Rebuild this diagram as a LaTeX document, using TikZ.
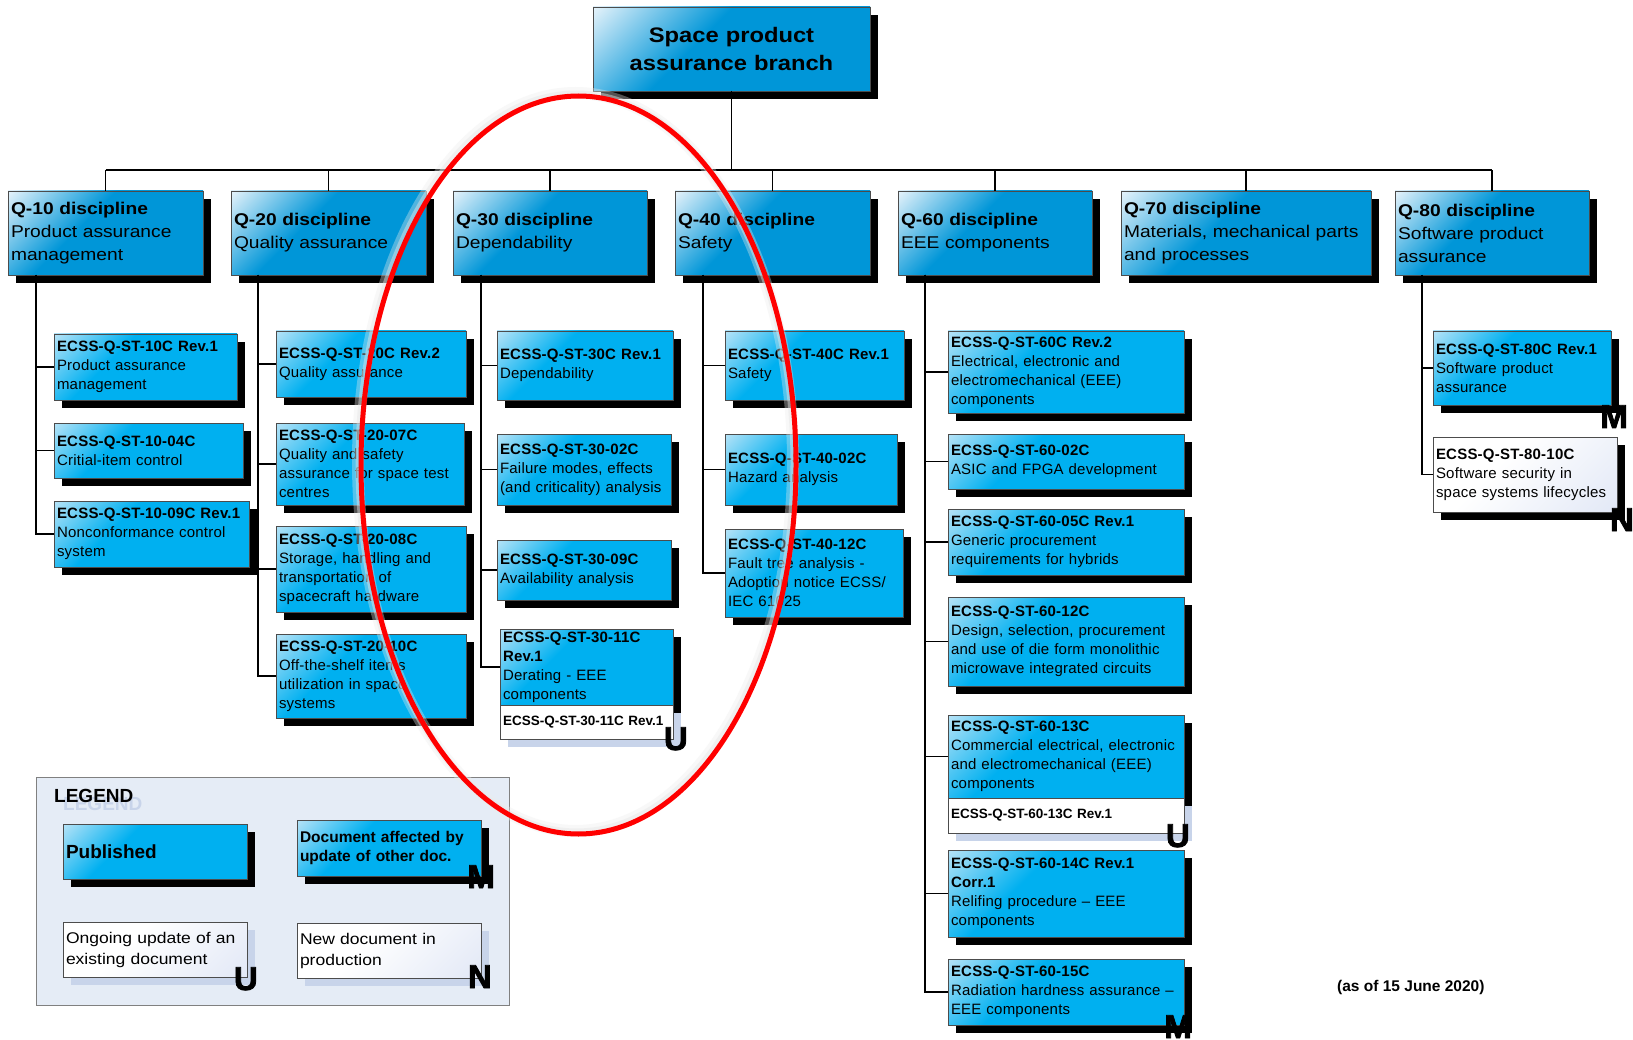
\documentclass[tikz,border=0pt]{standalone}
\usepackage{fontspec}
\setmainfont{Liberation Sans}
\newfontfamily\discfamily{Liberation Sans}[FakeStretch=1.13]
\newfontfamily\childfamily{Liberation Sans}[LetterSpace=1.5]
\newfontfamily\heavyfamily{Liberation Sans}[FakeBold=2.5]
\usetikzlibrary{shadows}
\definecolor{blueC}{RGB}{0,176,240}
\definecolor{lightc}{RGB}{178,226,247}
\definecolor{blueD}{RGB}{0,150,216}
\definecolor{lightd}{RGB}{226,241,250}
\definecolor{paleblue}{RGB}{226,232,246}
\definecolor{shadowlb}{RGB}{200,212,234}
\definecolor{legfill}{RGB}{229,236,246}
\pgfdeclarehorizontalshading{childsh}{100bp}{color(0bp)=(lightc); color(15bp)=(lightc); color(38bp)=(blueC); color(100bp)=(blueC)}
\pgfdeclarehorizontalshading{discsh}{100bp}{color(0bp)=(lightd); color(15bp)=(lightd); color(42bp)=(blueD); color(100bp)=(blueD)}
\pgfdeclarehorizontalshading{whitesh}{100bp}{color(0bp)=(white); color(40bp)=(white); color(85bp)=(paleblue); color(100bp)=(paleblue)}
\newcommand\childfont{\childfamily\fontsize{15}{19}\selectfont}
\newcommand\discfont{\discfamily\fontsize{17}{23}\selectfont}
\newcommand\topfont{\discfamily\bfseries\fontsize{21}{28}\selectfont}
\newcommand\revfont{\bfseries\fontsize{13.5}{16}\selectfont}
\newcommand\legfont{\discfamily\fontsize{15.5}{21}\selectfont}
\newcommand\letterfont{\heavyfamily\bfseries\fontsize{33}{33}\selectfont}
\tikzset{
  conn/.style={line width=1.8pt, draw=black},
  sz/.code 2 args={\pgfmathsetlengthmacro\bxtw{#1-6}\edef\bxtmp{\noexpand\pgfkeysalso{text width=\bxtw, minimum width=#1pt, minimum height=#2pt}}\bxtmp},
  boxbase/.style={draw=black!70, line width=0.6pt, inner xsep=3pt, inner ysep=0pt, outer sep=0pt, anchor=north west, align=left},
  blackshadow/.style={drop shadow={shadow xshift=8pt, shadow yshift=-8pt, fill=black, opacity=1}},
  lightshadow/.style={drop shadow={shadow xshift=8pt, shadow yshift=-8pt, fill=shadowlb, opacity=1}},
  childbox/.style={boxbase, blackshadow, shade, shading=childsh, shading angle=-45, font=\childfont},
  discbox/.style={boxbase, blackshadow, shade, shading=discsh, shading angle=-45, font=\discfont},
  topbox/.style={discbox, align=center, font=\topfont},
  newbox/.style={boxbase, blackshadow, shade, shading=whitesh, shading angle=-45, font=\childfont},
  revbox/.style={boxbase, lightshadow, fill=white, font=\revfont},
  legwhite/.style={boxbase, lightshadow, shade, shading=whitesh, shading angle=-45, font=\legfont},
  flag/.style={font=\letterfont, inner sep=0pt, anchor=base east},
}
\begin{document}
\begin{tikzpicture}[x=1pt,y=-1pt]
\fill[white] (0,0) rectangle (1633,1040);
\useasboundingbox (0,0) rectangle (1633,1040);

% top
\node[topbox, sz={277}{84}] (top) at (593,7) {Space product\\assurance branch};

% disciplines
\node[discbox, sz={195}{84}] (d10) at (8,191) {\textbf{Q-10 discipline}\\Product assurance\\management};
\node[discbox, sz={195}{84}] (d20) at (231,191) {\textbf{Q-20 discipline}\\Quality assurance};
\node[discbox, sz={194}{84}] (d30) at (453,191) {\textbf{Q-30 discipline}\\Dependability};
\node[discbox, sz={195}{84}] (d40) at (675,191) {\textbf{Q-40 discipline}\\Safety};
\node[discbox, sz={194}{84}] (d60) at (898,191) {\textbf{Q-60 discipline}\\EEE components};
\node[discbox, sz={250}{84}] (d70) at (1121,191) {\textbf{Q-70 discipline}\\Materials, mechanical parts\\and processes};
\node[discbox, sz={194}{84}] (d80) at (1395,191) {\textbf{Q-80 discipline}\\Software product\\assurance};

% bus
\coordinate (bus) at (0,170);
\draw[conn] (top.south) -- (top.south |- bus);
\draw[conn] (d10.north |- bus) -- (d80.north |- bus);
\foreach \d in {d10,d20,d30,d40,d60,d70,d80}{
  \draw[conn] (\d.north) -- (\d.north |- bus);
}

% vertical stems
\coordinate (v10) at ([xshift=28pt]d10.south west);
\coordinate (v20) at ([xshift=27pt]d20.south west);
\coordinate (v30) at ([xshift=28pt]d30.south west);
\coordinate (v40) at ([xshift=28pt]d40.south west);
\coordinate (v60) at ([xshift=27pt]d60.south west);
\coordinate (v80) at ([xshift=27pt]d80.south west);

% Q-10 children
\node[childbox, sz={183}{66}] (c10a) at (54,334) {\textbf{ECSS-Q-ST-10C Rev.1}\\Product assurance\\management};
\node[childbox, sz={189}{55}] (c10b) at (54,423) {\textbf{ECSS-Q-ST-10-04C}\\Critial-item control};
\node[childbox, sz={195}{66}] (c10c) at (54,501) {\textbf{ECSS-Q-ST-10-09C Rev.1}\\Nonconformance control\\system};

% Q-20 children
\node[childbox, sz={190}{66}] (c20a) at (276,331) {\textbf{ECSS-Q-ST-20C Rev.2}\\Quality assurance};
\node[childbox, sz={188}{82}] (c20b) at (276,423) {\textbf{ECSS-Q-ST-20-07C}\\Quality and safety\\assurance for space test\\centres};
\node[childbox, sz={190}{86}] (c20c) at (276,526) {\textbf{ECSS-Q-ST-20-08C}\\Storage, handling and\\transportation of\\spacecraft hardware};
\node[childbox, sz={190}{84}] (c20d) at (276,634) {\textbf{ECSS-Q-ST-20-10C}\\Off-the-shelf items\\utilization in space\\systems};

% Q-30 children
\node[childbox, sz={176}{69}] (c30a) at (497,331) {\textbf{ECSS-Q-ST-30C Rev.1}\\Dependability};
\node[childbox, sz={174}{71}] (c30b) at (497,434) {\textbf{ECSS-Q-ST-30-02C}\\Failure modes, effects\\(and criticality) analysis};
\node[childbox, sz={174}{60}] (c30c) at (497,540) {\textbf{ECSS-Q-ST-30-09C}\\Availability analysis};
\node[childbox, sz={173}{76}] (c30d) at (500,629) {\textbf{ECSS-Q-ST-30-11C}\\\textbf{Rev.1}\\Derating - EEE\\components};
\node[revbox, sz={173}{34}] (c30w) at (500,705) {ECSS-Q-ST-30-11C Rev.1};

% Q-40 children
\node[childbox, sz={179}{69}] (c40a) at (725,331) {\textbf{ECSS-Q-ST-40C Rev.1}\\Safety};
\node[childbox, sz={172}{71}] (c40b) at (725,434) {\textbf{ECSS-Q-ST-40-02C}\\Hazard analysis};
\node[childbox, sz={178}{88}] (c40c) at (725,529) {\textbf{ECSS-Q-ST-40-12C}\\Fault tree analysis -\\Adoption notice ECSS/\\IEC 61025};

% Q-60 children
\node[childbox, sz={236}{82}] (c60a) at (948,331) {\textbf{ECSS-Q-ST-60C Rev.2}\\Electrical, electronic and\\electromechanical (EEE)\\components};
\node[childbox, sz={236}{55}] (c60b) at (948,434) {\textbf{ECSS-Q-ST-60-02C}\\ASIC and FPGA development};
\node[childbox, sz={236}{66}] (c60c) at (948,509) {\textbf{ECSS-Q-ST-60-05C Rev.1}\\Generic procurement\\requirements for hybrids};
\node[childbox, sz={236}{89}] (c60d) at (948,597) {\textbf{ECSS-Q-ST-60-12C}\\Design, selection, procurement\\and use of die form monolithic\\microwave integrated circuits};
\node[childbox, sz={236}{83}] (c60e) at (948,715) {\textbf{ECSS-Q-ST-60-13C}\\Commercial electrical, electronic\\and electromechanical (EEE)\\components};
\node[revbox, sz={236}{35}] (c60w) at (948,798) {ECSS-Q-ST-60-13C Rev.1};
\node[childbox, sz={236}{87}] (c60f) at (948,850) {\textbf{ECSS-Q-ST-60-14C Rev.1}\\\textbf{Corr.1}\\Relifing procedure – EEE\\components};
\node[childbox, sz={236}{66}] (c60g) at (948,959) {\textbf{ECSS-Q-ST-60-15C}\\Radiation hardness assurance –\\EEE components};

% Q-80 children
\node[childbox, sz={178}{74}] (c80a) at (1433,331) {\textbf{ECSS-Q-ST-80C Rev.1}\\Software product\\assurance};
\node[newbox, sz={184}{75}] (c80b) at (1433,437) {\textbf{ECSS-Q-ST-80-10C}\\Software security in\\space systems lifecycles};

% child connectors
\foreach \c in {c10a,c10b,c10c}{\draw[conn] (v10) |- (\c.west);}
\foreach \c in {c20a,c20b,c20c,c20d}{\draw[conn] (v20) |- (\c.west);}
\foreach \c in {c30a,c30b,c30c,c30d}{\draw[conn] (v30) |- (\c.west);}
\foreach \c in {c40a,c40b,c40c}{\draw[conn] (v40) |- (\c.west);}
\foreach \c in {c60a,c60b,c60c,c60d,c60e,c60f,c60g}{\draw[conn] (v60) |- (\c.west);}
\foreach \c in {c80a,c80b}{\draw[conn] (v80) |- (\c.west);}

% status flags
\node[flag] (f30) at (688,750) {U};
\node[flag] (f60e) at (1190,847) {U};
\node[flag] (f60g) at (1192,1038) {M};
\node[flag] (f80a) at (1628,428) {M};
\node[flag] (f80b) at (1634,531) {N};

% legend
\node[draw=black!50, line width=1.2pt, fill=legfill, minimum width=473pt, minimum height=228pt, anchor=north west, inner sep=0pt] (legend) at (36,777) {};
\node[font=\bfseries\fontsize{19}{23}\selectfont, text=shadowlb, anchor=base west, inner sep=0pt] (legghost) at (63,810) {LEGEND};
\node[font=\bfseries\fontsize{19}{23}\selectfont, anchor=base west, inner sep=0pt] (legtitle) at (54,802) {LEGEND};
\node[childbox, sz={184}{55}, font=\bfseries\fontsize{19}{23}\selectfont] (lgpub) at (63,824) {Published};
\node[childbox, sz={184}{56}, font=\bfseries\fontsize{15.5}{19}\selectfont] (lgmod) at (297,820) {Document affected by\\update of other doc.};
\node[legwhite, sz={184}{55}] (lgupd) at (63,922) {Ongoing update of an\\existing document};
\node[legwhite, sz={184}{55}] (lgnew) at (297,923) {New document in\\production};
\node[flag] (flm) at (495,888) {M};
\node[flag] (flu) at (258,990) {U};
\node[flag] (fln) at (492,988) {N};

% date
\node[font=\bfseries\fontsize{15.5}{18}\selectfont, anchor=west, inner sep=0pt] (date) at (1337,987) {(as of 15 June 2020)};

% red ellipse with soft glow
\draw[white!85!gray, line width=12pt, opacity=0.35] (575.5,462) ellipse [x radius=217.5pt, y radius=369pt];
\draw[white!80!gray, line width=7pt, opacity=0.45] (576.5,463) ellipse [x radius=217.5pt, y radius=369pt];
\draw[red, line width=5pt] (578.5,465) ellipse [x radius=217.5pt, y radius=369pt];
\end{tikzpicture}
\end{document}
